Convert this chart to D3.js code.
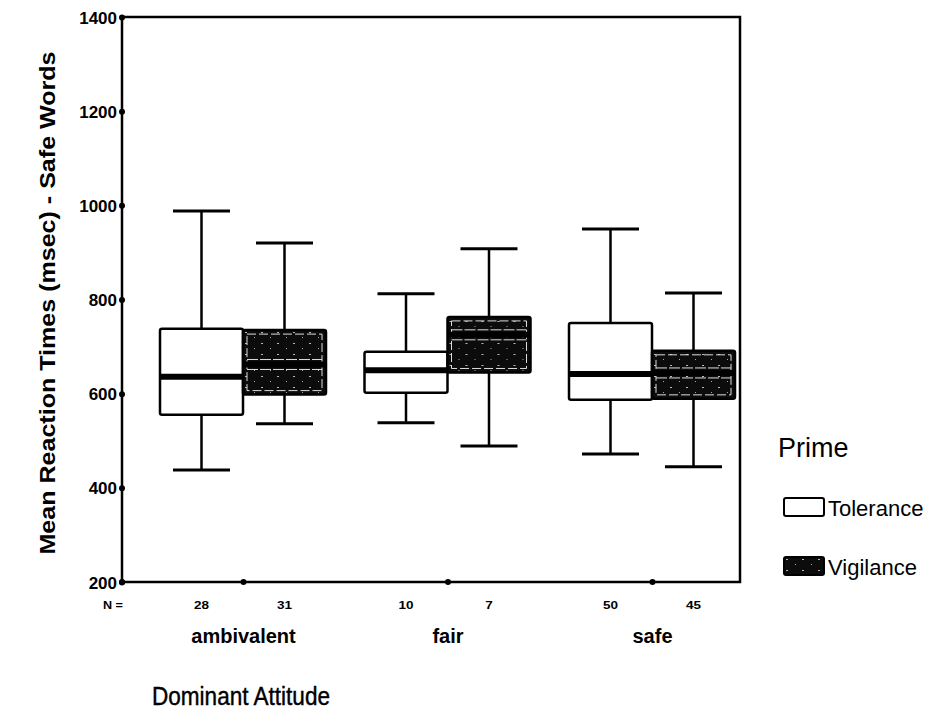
<!DOCTYPE html>
<html>
<head>
<meta charset="utf-8">
<script src="https://cdn.jsdelivr.net/npm/d3@7"></script>
<style>
  body { margin: 0; background: #fff; }
  text { font-family: "Liberation Sans", Arial, sans-serif; fill: #000; }
</style>
</head>
<body>
<svg id="chart" width="936" height="715"></svg>
<script>
// groups and series
var attitudes = ["ambivalent", "fair", "safe"];
var primes = ["Tolerance", "Vigilance"];
var yTicks = [200, 400, 600, 800, 1000, 1200, 1400];

// box stats, order: ambivalent, fair, safe
var tolLow    = [438, 538, 472];
var tolQ1     = [555, 602, 587];
var tolMedian = [636, 650, 642];
var tolQ3     = [738, 689, 750];
var tolHigh   = [988, 812, 950];
var tolN      = [28, 10, 50];

var vigLow    = [536, 489, 445];
var vigQ1     = [598, 645, 589];
var vigMedian = [662, 725, 644];
var vigQ3     = [735, 763, 691];
var vigHigh   = [920, 908, 814];
var vigN      = [31, 7, 45];

var boxes = [];
attitudes.forEach(function (a, i) {
    boxes.push({group: a, prime: "Tolerance", low: tolLow[i], q1: tolQ1[i], med: tolMedian[i], q3: tolQ3[i], high: tolHigh[i], n: tolN[i]});
    boxes.push({group: a, prime: "Vigilance", low: vigLow[i], q1: vigQ1[i], med: vigMedian[i], q3: vigQ3[i], high: vigHigh[i], n: vigN[i]});
});

var svg = d3.select("#chart");
var pLeft = 122, pRight = 740, pTop = 17, pBottom = 582;

var y = d3.scaleLinear().domain([200, 1400]).range([pBottom, pTop]);
var x = d3.scalePoint().domain(attitudes).range([243, 652]);
var sub = d3.scaleBand().domain(primes).range([-83, 83]);
var boxW = sub.bandwidth();
var capW = 57;

// pattern for the vigilance fill
var defs = svg.append("defs");
var pat = defs.append("pattern")
    .attr("id", "speckle")
    .attr("width", 16).attr("height", 11)
    .attr("patternUnits", "userSpaceOnUse");
pat.append("rect").attr("width", 16).attr("height", 11).attr("fill", "#0c0c0c");
pat.append("rect").attr("x", 2).attr("y", 2).attr("width", 2).attr("height", 1).attr("fill", "#bbb");
pat.append("rect").attr("x", 11).attr("y", 7).attr("width", 1).attr("height", 1).attr("fill", "#aaa");

// frame
svg.append("rect")
    .attr("x", pLeft).attr("y", pTop)
    .attr("width", pRight - pLeft).attr("height", pBottom - pTop)
    .attr("fill", "none").attr("stroke", "#000").attr("stroke-width", 2.5);

// y axis
var yAxis = d3.axisLeft(y).tickValues(yTicks).tickFormat(d3.format("d")).tickSize(0).tickPadding(5);
var gy = svg.append("g").attr("transform", "translate(" + pLeft + ",0)").call(yAxis);
gy.select(".domain").remove();
gy.selectAll("text")
    .style("font-size", "17px").style("font-weight", "bold")
    .attr("dy", "0.36em");
gy.selectAll(".tick").append("circle").attr("r", 3).attr("fill", "#000");

// x axis
var xAxis = d3.axisBottom(x).tickSize(0).tickPadding(47);
var gx = svg.append("g").attr("transform", "translate(0," + pBottom + ")").call(xAxis);
gx.select(".domain").remove();
gx.selectAll("text").style("font-size", "20px").style("font-weight", "bold");
gx.selectAll(".tick").append("circle").attr("r", 3).attr("fill", "#000");
svg.append("circle").attr("cx", pLeft).attr("cy", pBottom).attr("r", 3).attr("fill", "#000");

// N labels
svg.append("text").attr("x", 103).attr("y", 609)
    .attr("textLength", 20).attr("lengthAdjust", "spacingAndGlyphs")
    .style("font-size", "10px").style("font-weight", "bold").text("N =");
svg.selectAll(".nlab")
    .data(boxes)
    .enter()
    .append("text")
    .attr("class", "nlab")
    .attr("x", function (d) { return x(d.group) + sub(d.prime) + boxW / 2; })
    .attr("y", 609)
    .attr("text-anchor", "middle")
    .attr("textLength", function (d) { return String(d.n).length * 7.5; })
    .attr("lengthAdjust", "spacingAndGlyphs")
    .style("font-size", "10px").style("font-weight", "bold")
    .text(function (d) { return d.n; });

// boxes
var g = svg.selectAll(".box")
    .data(boxes)
    .enter()
    .append("g")
    .attr("class", "box")
    .attr("transform", function (d) { return "translate(" + (x(d.group) + sub(d.prime)) + ",0)"; });

var mid = boxW / 2;
g.append("line")
    .attr("x1", mid).attr("x2", mid)
    .attr("y1", function (d) { return y(d.high); })
    .attr("y2", function (d) { return y(d.q3); })
    .attr("stroke", "#000").attr("stroke-width", 2.5);
g.append("line")
    .attr("x1", mid).attr("x2", mid)
    .attr("y1", function (d) { return y(d.q1); })
    .attr("y2", function (d) { return y(d.low); })
    .attr("stroke", "#000").attr("stroke-width", 2.5);
g.append("line")
    .attr("x1", mid - capW / 2).attr("x2", mid + capW / 2)
    .attr("y1", function (d) { return y(d.high); })
    .attr("y2", function (d) { return y(d.high); })
    .attr("stroke", "#000").attr("stroke-width", 3);
g.append("line")
    .attr("x1", mid - capW / 2).attr("x2", mid + capW / 2)
    .attr("y1", function (d) { return y(d.low); })
    .attr("y2", function (d) { return y(d.low); })
    .attr("stroke", "#000").attr("stroke-width", 3);

g.append("rect")
    .attr("x", 0).attr("width", boxW)
    .attr("y", function (d) { return y(d.q3); })
    .attr("height", function (d) { return y(d.q1) - y(d.q3); })
    .attr("rx", 2)
    .attr("fill", function (d) { return d.prime == "Tolerance" ? "#fff" : "url(#speckle)"; })
    .attr("stroke", "#000").attr("stroke-width", 2.5);

// inner white dashed outline and median gaps for the dark boxes
var vg = g.filter(function (d) { return d.prime == "Vigilance"; });
vg.append("rect")
    .attr("x", 4).attr("width", boxW - 8)
    .attr("y", function (d) { return y(d.q3) + 4; })
    .attr("height", function (d) { return y(d.q1) - y(d.q3) - 8; })
    .attr("fill", "none").attr("stroke", "#ddd").attr("stroke-width", 1)
    .attr("stroke-dasharray", "9,3");
vg.selectAll(".gap")
    .data(function (d) { return [y(d.med) - 5, y(d.med) + 5]; })
    .enter()
    .append("line")
    .attr("x1", 4).attr("x2", boxW - 4)
    .attr("y1", function (v) { return v; })
    .attr("y2", function (v) { return v; })
    .attr("stroke", "#ddd").attr("stroke-width", 1)
    .attr("stroke-dasharray", "11,2");

g.append("line")
    .attr("x1", 0).attr("x2", boxW)
    .attr("y1", function (d) { return y(d.med); })
    .attr("y2", function (d) { return y(d.med); })
    .attr("stroke", "#000").attr("stroke-width", 6);

// titles
svg.append("text")
    .attr("transform", "translate(55,303) rotate(-90)")
    .attr("text-anchor", "middle")
    .attr("textLength", 503).attr("lengthAdjust", "spacingAndGlyphs")
    .style("font-size", "22px").style("font-weight", "bold")
    .text("Mean Reaction Times (msec) - Safe Words");
svg.append("text").attr("x", 152).attr("y", 705)
    .attr("textLength", 178).attr("lengthAdjust", "spacingAndGlyphs")
    .style("font-size", "25px").style("stroke", "#000").style("stroke-width", 0.4)
    .text("Dominant Attitude");

// legend
svg.append("text").attr("x", 778).attr("y", 457)
    .style("font-size", "27px").text("Prime");
var leg = svg.selectAll(".leg")
    .data(primes)
    .enter()
    .append("g")
    .attr("class", "leg")
    .attr("transform", function (d, i) { return "translate(784," + (498 + i * 59) + ")"; });
leg.append("rect")
    .attr("width", 40).attr("height", 18).attr("rx", 2)
    .attr("fill", function (d) { return d == "Tolerance" ? "#fff" : "url(#speckle)"; })
    .attr("stroke", "#000").attr("stroke-width", 2);
leg.append("text").attr("x", 44).attr("y", 18)
    .style("font-size", "22px").text(function (d) { return d; });
</script>
</body>
</html>
